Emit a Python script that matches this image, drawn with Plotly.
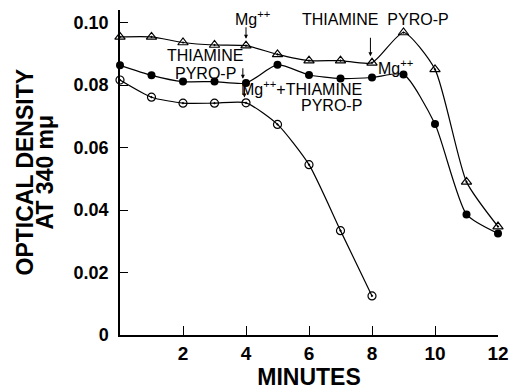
import plotly.graph_objects as go

minutes_tri = [0, 1, 2, 3, 4, 5, 6, 7, 8, 9, 10, 11, 12]
od_tri = [0.0954, 0.0954, 0.0936, 0.0928, 0.0926, 0.0898, 0.0878, 0.0878, 0.0871, 0.0968, 0.0850, 0.0490, 0.0347]

minutes_fill = [0, 1, 2, 3, 4, 5, 6, 7, 8, 9, 10, 11, 12]
od_fill = [0.0863, 0.0831, 0.0811, 0.0811, 0.0806, 0.0865, 0.0832, 0.0821, 0.0824, 0.0834, 0.0675, 0.0386, 0.0325]

minutes_open = [0, 1, 2, 3, 4, 5, 6, 7, 8]
od_open = [0.0816, 0.0761, 0.0742, 0.0742, 0.0743, 0.0674, 0.0545, 0.0334, 0.0125]

x_ticks = [2, 4, 6, 8, 10, 12]
y_ticks = [0, 0.02, 0.04, 0.06, 0.08, 0.10]
y_ticktext = ["0", "0.02", "0.04", "0.06", "0.08", "0.10"]

FONT = "Liberation Sans, Arial, sans-serif"
line_style = dict(color="black", width=1.2, shape="spline", smoothing=0.6)

fig = go.Figure()
fig.add_trace(go.Scatter(x=minutes_tri, y=od_tri, mode="lines+markers", line=line_style,
                         marker=dict(symbol="triangle-up-open-dot", size=9, color="black",
                                     line=dict(width=1.2, color="black")), cliponaxis=False))
fig.add_trace(go.Scatter(x=minutes_fill, y=od_fill, mode="lines+markers", line=line_style,
                         marker=dict(symbol="circle", size=8, color="black"), cliponaxis=False))
fig.add_trace(go.Scatter(x=minutes_open, y=od_open, mode="lines+markers", line=line_style,
                         marker=dict(symbol="circle-open-dot", size=8, color="black",
                                     line=dict(width=1.2, color="black")), cliponaxis=False))

ann_font = dict(family=FONT, size=16, color="black")
title_font = dict(family=FONT, size=23, color="black", weight="bold")
annotations = [
    dict(x=4.2, y=0.1016, text="Mg<sup>++</sup>", showarrow=False, font=ann_font),
    dict(x=8.1, y=0.1010, text="THIAMINE  PYRO-P", showarrow=False, font=ann_font),
    dict(x=8.12, y=0.0859, text="Mg<sup>++</sup>", showarrow=False, xanchor="left", font=ann_font),
    dict(x=2.71, y=0.0893, text="THIAMINE", showarrow=False, font=ann_font, borderpad=0),
    dict(x=2.71, y=0.0837, text="PYRO-P", showarrow=False, font=ann_font, borderpad=0),
    dict(x=7.74, y=0.0790, text="Mg<sup>++</sup>+THIAMINE", showarrow=False,
         xanchor="right", font=ann_font),
    dict(x=7.76, y=0.0734, text="PYRO-P", showarrow=False, xanchor="right", font=ann_font),
    # arrows
    dict(x=4.0, y=0.0948, ax=0, ay=-13, text="", showarrow=True, arrowhead=2, arrowsize=0.8,
         arrowwidth=1, arrowcolor="black"),
    dict(x=7.95, y=0.0892, ax=0, ay=-20, text="", showarrow=True, arrowhead=2, arrowsize=0.8,
         arrowwidth=1, arrowcolor="black"),
    dict(x=3.9, y=0.0820, ax=0, ay=-12, text="", showarrow=True, arrowhead=2, arrowsize=0.8,
         arrowwidth=1, arrowcolor="black"),
    dict(x=3.95, y=0.0760, ax=0, ay=-13, text="", showarrow=True, arrowhead=2, arrowsize=0.8,
         arrowwidth=1, arrowcolor="black"),
    # y-axis title, two lines
    dict(xref="paper", yref="paper", x=0, y=0.5, xshift=-96, xanchor="center", yanchor="middle",
         text="OPTICAL DENSITY", textangle=-90, showarrow=False, font=title_font),
    dict(xref="paper", yref="paper", x=0, y=0.5, xshift=-76, xanchor="center", yanchor="middle",
         text="AT 340 m&#956;", textangle=-90, showarrow=False, font=title_font),
]

fig.update_layout(
    width=519, height=392,
    margin=dict(l=120, r=12, t=10, b=50),
    paper_bgcolor="white", plot_bgcolor="white",
    showlegend=False,
    annotations=annotations,
    xaxis=dict(range=[0, 12], tickvals=x_ticks, ticks="inside", ticklen=9, tickwidth=1.2,
               tickcolor="black", showline=True, linecolor="black", linewidth=1.5,
               showgrid=False, zeroline=False,
               tickfont=dict(family=FONT, size=19, color="black", weight="bold"),
               title=dict(text="MINUTES", standoff=2, font=title_font)),
    yaxis=dict(range=[0, 0.104], tickvals=y_ticks, ticktext=y_ticktext, ticks="inside",
               ticklen=8, tickwidth=1.2, tickcolor="black", showline=True, linecolor="black",
               linewidth=1.5, showgrid=False, zeroline=False, ticklabelstandoff=6,
               tickfont=dict(family=FONT, size=18, color="black", weight="bold")),
)

fig.write_html("out.html")
